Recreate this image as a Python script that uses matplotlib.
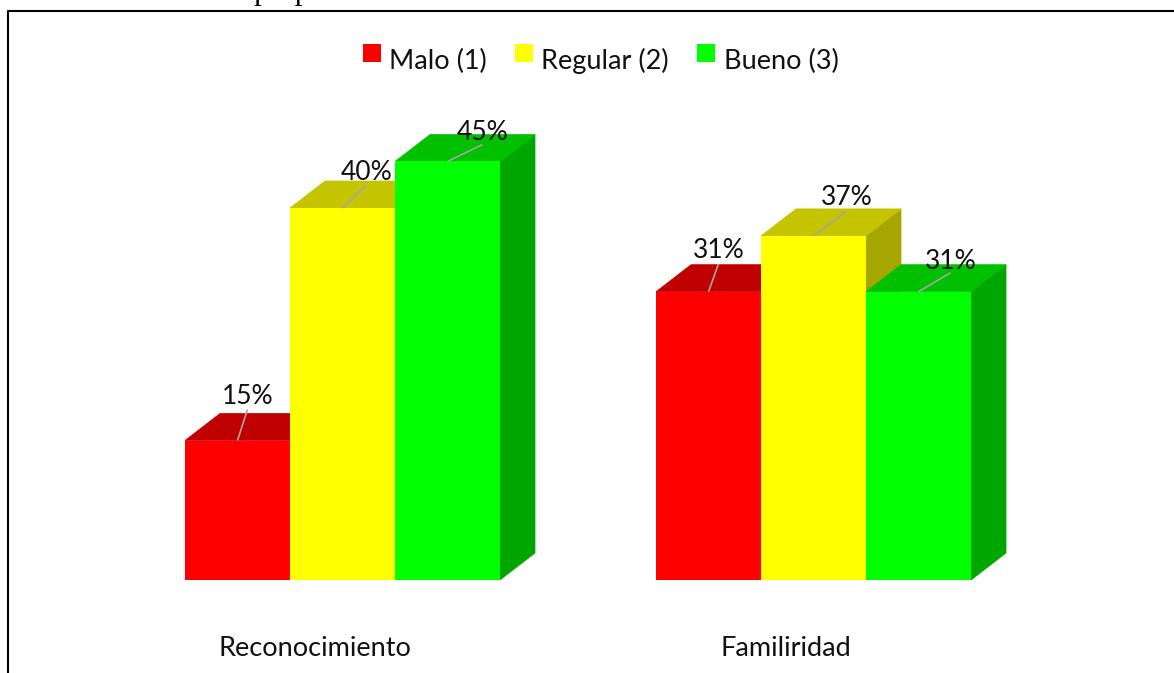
import matplotlib.pyplot as plt
from matplotlib.legend_handler import HandlerPatch
from matplotlib.lines import Line2D
from matplotlib.patches import Patch

categories = ["Reconocimiento", "Familiridad"]
series_names = ["Malo (1)", "Regular (2)", "Bueno (3)"]
malo = [15, 31]
regular = [40, 37]
bueno = [45, 31]

FRONT = ["#ff0000", "#ffff00", "#00ff00"]
TOP = ["#c00000", "#c4c400", "#00c000"]
SIDE = ["#a60000", "#a6a600", "#00a600"]

WIDTH, HEIGHT = 1174, 673
BASE_Y = 580  # pixel row of the bar floor
PX_PER_UNIT = 105  # one bar width
PX_PER_PCT = 9.3
DEPTH_X = 35 / PX_PER_UNIT
DEPTH_Y = 27 / PX_PER_PCT

group_starts = [0.0, 4.486]
label_shift = -0.26  # category names sit left of the group centre

# end of the gray leader line and centre of the label, relative to the front top centre (px)
leader_ends = [[(10, 31), (24, 23), (35, 17)], [(10, 28), (32, 24), (32, 19)]]
label_gaps = [[(10, 44), (24, 36), (35, 29)], [(10, 41), (33, 38), (32, 30)]]

plt.rcParams["font.family"] = ["Lato", "DejaVu Sans"]

fig = plt.figure(figsize=(WIDTH / 100, HEIGHT / 100), dpi=100)
ax = fig.add_axes([0, (HEIGHT - BASE_Y) / HEIGHT, 1, BASE_Y / HEIGHT])
ax.set_xlim(-185 / PX_PER_UNIT, (WIDTH - 185) / PX_PER_UNIT)
ax.set_ylim(0, BASE_Y / PX_PER_PCT)
for spine in ax.spines.values():
    spine.set_visible(False)
ax.set_yticks([])

all_series = [malo, regular, bueno]
for g, start in enumerate(group_starts):
    for s, values in enumerate(all_series):
        v = values[g]
        x0 = start + s
        x1 = x0 + 1
        # side and top faces are drawn first, then the front covers the joins
        ax.fill(
            [x1, x1 + DEPTH_X, x1 + DEPTH_X, x1],
            [0, DEPTH_Y, v + DEPTH_Y, v],
            color=SIDE[s], lw=0.5, zorder=2 + s,
        )
        ax.fill(
            [x0, x0 + DEPTH_X, x1 + DEPTH_X, x1],
            [v, v + DEPTH_Y, v + DEPTH_Y, v],
            color=TOP[s], lw=0.5, zorder=2 + s,
        )
        ax.bar(x0 + 0.5, v, width=1, color=FRONT[s], lw=0, zorder=2 + s)

# labels and leaders go on top of all the bars
for g, start in enumerate(group_starts):
    for s, values in enumerate(all_series):
        v = values[g]
        xc = start + s + 0.5
        ex, ey = leader_ends[g][s]
        ax.plot(
            [xc, xc + ex / PX_PER_UNIT],
            [v, v + ey / PX_PER_PCT],
            color="#a6a6a6", lw=1.2, zorder=10, solid_capstyle="butt",
        )
        lx, ly = label_gaps[g][s]
        ax.text(
            xc + lx / PX_PER_UNIT, v + ly / PX_PER_PCT, f"{v}%",
            ha="center", va="center", fontsize=19, color="#111111", zorder=11,
        )

ax.set_xticks([start + 1.5 + label_shift for start in group_starts], categories)
ax.tick_params(axis="x", length=0, pad=40, labelsize=19.5, labelcolor="#111111")

# legend swatches sit above the text baseline
handles = [Patch(facecolor=c, edgecolor="none") for c in FRONT]
fig.legend(
    handles, series_names, ncol=3, loc="center",
    bbox_to_anchor=(600.5 / WIDTH, 1 - 59.5 / HEIGHT), frameon=False,
    fontsize=19.5, labelcolor="#111111", handlelength=0.67, handleheight=1.33,
    handletextpad=0.3, columnspacing=1.05,
    handler_map={Patch: HandlerPatch(ypad=0.48)},
)

# outer frame: top and left rules only, both run off the edges
fig.add_artist(Line2D(
    [8 / WIDTH, 8 / WIDTH, 1], [0, 1 - 10.5 / HEIGHT, 1 - 10.5 / HEIGHT],
    transform=fig.transFigure, color="black", lw=1.5,
))

# source line, cut by the top edge
fig.text(
    0, 1 + 1 / HEIGHT, "Fuente: Elaboración propia",
    family=["Liberation Serif"], fontsize=22, color="black", ha="left", va="baseline",
)

fig.savefig("out.png", dpi=100)
